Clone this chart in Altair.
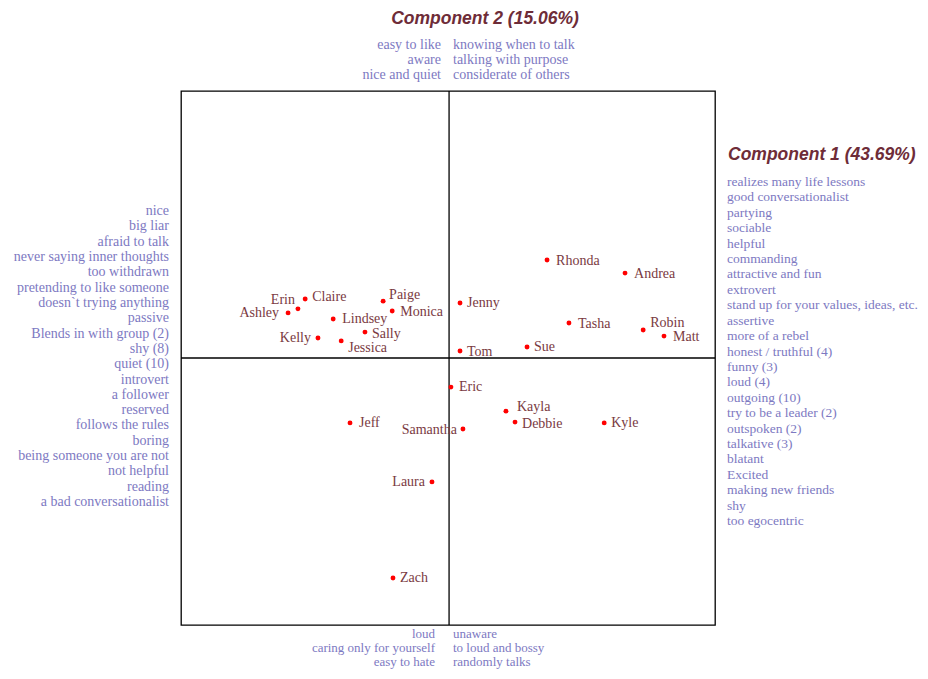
import altair as alt
import numpy as np
import pandas as pd

# ---- data: component scores of each person ----
names = ["Rhonda", "Andrea", "Jenny", "Tasha", "Robin", "Matt", "Sue", "Tom",
         "Claire", "Erin", "Ashley", "Paige", "Monica", "Lindsey", "Sally",
         "Kelly", "Jessica", "Eric", "Kayla", "Debbie", "Kyle", "Jeff",
         "Samantha", "Laura", "Zach"]
comp1 = [0.367, 0.659, 0.041, 0.449, 0.727, 0.805, 0.292, 0.041,
         -0.539, -0.566, -0.603, -0.247, -0.213, -0.434, -0.315,
         -0.491, -0.404, 0.007, 0.213, 0.247, 0.581, -0.371,
         0.052, -0.064, -0.210]
comp2 = [0.367, 0.318, 0.206, 0.131, 0.105, 0.082, 0.041, 0.026,
         0.221, 0.184, 0.169, 0.213, 0.176, 0.146, 0.097,
         0.075, 0.064, -0.109, -0.199, -0.240, -0.243, -0.243,
         -0.266, -0.464, -0.824]

# label placement (side, dx px, dy px)
label_place = {
    "Rhonda": ("r", 9, 1), "Andrea": ("r", 9, 1), "Jenny": ("r", 7, 0),
    "Tasha": ("r", 9, 1), "Robin": ("r", 7, -7), "Matt": ("r", 9, 1),
    "Sue": ("r", 7, 0), "Tom": ("r", 7, 1), "Claire": ("r", 7, -2),
    "Erin": ("l", -3, -9), "Ashley": ("l", -9, 0), "Paige": ("r", 6, -6),
    "Monica": ("r", 8, 1), "Lindsey": ("r", 9, 0), "Sally": ("r", 7, 2),
    "Kelly": ("l", -7, 0), "Jessica": ("r", 7, 7), "Eric": ("r", 8, 0),
    "Kayla": ("r", 11, -4), "Debbie": ("r", 7, 2), "Kyle": ("r", 7, 0),
    "Jeff": ("r", 9, 0), "Samantha": ("l", -6, 1), "Laura": ("l", -7, 0),
    "Zach": ("r", 7, 0),
}

left_terms = ["nice", "big liar", "afraid to talk", "never saying inner thoughts",
              "too withdrawn", "pretending to like someone", "doesn`t trying anything",
              "passive", "Blends in with group (2)", "shy (8)", "quiet (10)",
              "introvert", "a follower", "reserved", "follows the rules", "boring",
              "being someone you are not", "not helpful", "reading",
              "a bad conversationalist"]
right_terms = ["realizes many life lessons", "good conversationalist", "partying",
               "sociable", "helpful", "commanding", "attractive and fun", "extrovert",
               "stand up for your values, ideas, etc.", "assertive", "more of a rebel",
               "honest / truthful (4)", "funny (3)", "loud (4)", "outgoing (10)",
               "try to be a leader (2)", "outspoken (2)", "talkative (3)", "blatant",
               "Excited", "making new friends", "shy", "too egocentric"]
top_left_terms = ["easy to like", "aware", "nice and quiet"]
top_right_terms = ["knowing when to talk", "talking with purpose", "considerate of others"]
bottom_left_terms = ["loud", "caring only for yourself", "easy to hate"]
bottom_right_terms = ["unaware", "to loud and bossy", "randomly talks"]

title1 = "Component 1 (43.69%)"
title2 = "Component 2 (15.06%)"

PX = 267.0
df = pd.DataFrame({"name": names, "c1": comp1, "c2": comp2})
df["side"] = [label_place[n][0] for n in names]
df["lx"] = np.array(comp1) + np.array([label_place[n][1] for n in names]) / PX
df["ly"] = np.array(comp2) - np.array([label_place[n][2] for n in names]) / PX

xs = alt.Scale(domain=[-1.004, 0.996], nice=False, zero=False)
ys = alt.Scale(domain=[-1.0, 1.0], nice=False, zero=False)

LIST_COLOR = "#7d79c2"
LABEL_COLOR = "#7a3a42"
TITLE_COLOR = "#6e2c38"
SERIF = "Liberation Serif"
FS = 14

base = alt.Chart(df)

vline = alt.Chart(pd.DataFrame({"v": [0.0]})).mark_rule(color="black", strokeWidth=1.3).encode(
    x=alt.X("v:Q", scale=xs, axis=None))
hline = alt.Chart(pd.DataFrame({"v": [0.0]})).mark_rule(color="black", strokeWidth=1.3).encode(
    y=alt.Y("v:Q", scale=ys, axis=None))

points = base.mark_circle(color="red", opacity=1, size=24).encode(
    x=alt.X("c1:Q", scale=xs, axis=None),
    y=alt.Y("c2:Q", scale=ys, axis=None))

lab_r = base.transform_filter(alt.datum.side == "r").mark_text(
    align="left", baseline="middle", font=SERIF, fontSize=FS, color=LABEL_COLOR).encode(
    x=alt.X("lx:Q", scale=xs, axis=None),
    y=alt.Y("ly:Q", scale=ys, axis=None),
    text="name:N")
lab_l = base.transform_filter(alt.datum.side == "l").mark_text(
    align="right", baseline="middle", font=SERIF, fontSize=FS, color=LABEL_COLOR).encode(
    x=alt.X("lx:Q", scale=xs, axis=None),
    y=alt.Y("ly:Q", scale=ys, axis=None),
    text="name:N")

PLOT_LEFT, PLOT_TOP = 181, 91


def term_list(terms, x_px, top_px, step, align, fs=FS):
    n = len(terms)
    d = pd.DataFrame({"term": terms, "row": list(range(n))})
    y0 = top_px - PLOT_TOP
    return alt.Chart(d).mark_text(
        align=align, baseline="middle", font=SERIF, fontSize=fs, color=LIST_COLOR).encode(
        x=alt.value(x_px - PLOT_LEFT),
        y=alt.Y("row:Q", scale=alt.Scale(domain=[0, n - 1], range=[y0, y0 + (n - 1) * step]),
                axis=None),
        text="term:N")


lists = [
    term_list(left_terms, 169, 211, 15.32, "right"),
    term_list(right_terms, 727, 182, 15.41, "left", 13.5),
    term_list(top_left_terms, 441, 45, 15.0, "right"),
    term_list(top_right_terms, 453, 45, 15.0, "left"),
    term_list(bottom_left_terms, 435, 634, 14.0, "right", 13),
    term_list(bottom_right_terms, 453, 634, 14.0, "left", 13),
]

t1 = alt.Chart(pd.DataFrame({"t": [title1]})).mark_text(
    align="left", baseline="middle", font="Liberation Sans", fontSize=17.5,
    fontWeight="bold", fontStyle="italic", color=TITLE_COLOR).encode(
    x=alt.value(728 - PLOT_LEFT), y=alt.value(155 - PLOT_TOP), text="t:N")
t2 = alt.Chart(pd.DataFrame({"t": [title2]})).mark_text(
    align="center", baseline="middle", font="Liberation Sans", fontSize=17.5,
    fontWeight="bold", fontStyle="italic", color=TITLE_COLOR).encode(
    x=alt.value(485 - PLOT_LEFT), y=alt.value(19 - PLOT_TOP), text="t:N")

chart = alt.layer(vline, hline, points, lab_r, lab_l, *lists, t1, t2).resolve_scale(
    y="independent").properties(
    width=534, height=534,
    autosize=alt.AutoSizeParams(type="none"),
    padding={"left": 173, "top": 83, "right": 205, "bottom": 46},
).configure_view(stroke="black", strokeWidth=1.3)

chart.save("out.html", embed_options={"renderer": "svg", "actions": False})
